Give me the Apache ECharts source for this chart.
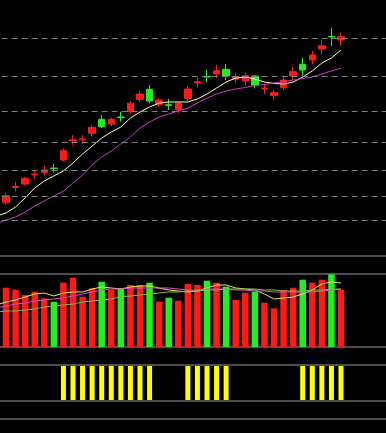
<!DOCTYPE html>
<html><head><meta charset="utf-8">
<script src="https://cdn.jsdelivr.net/npm/echarts@6/dist/echarts.min.js"></script>
<style>html,body{margin:0;padding:0;background:#000;}#c{width:386px;height:433px;}</style>
</head><body><div id="c"></div>
<script>
// categories (slot 0 is a partly hidden previous day, slots 37-41 are empty)
const categories = ['0','1','2','3','4','5','6','7','8','9','10','11','12','13','14','15','16','17','18','19','20',
  '21','22','23','24','25','26','27','28','29','30','31','32','33','34','35','36','37','38','39','40','41'];

// [open, close, low, high]
const candles = ['-',
  [15.37,16.03,15.10,16.33],[16.85,16.95,16.43,17.43],[17.20,17.77,17.03,17.93],[18.12,18.20,17.70,18.60],
  [18.37,18.60,18.03,19.00],[18.80,18.74,18.37,19.20],[19.60,20.53,19.43,20.77],[21.55,21.62,21.10,22.10],
  [21.62,21.70,21.20,22.10],[22.27,22.87,21.93,23.10],[23.67,22.93,22.77,24.10],[23.20,23.67,23.00,23.83],
  [23.90,23.84,23.43,24.43],[24.43,25.27,24.20,25.53],[25.67,26.20,25.43,26.50],[26.67,25.50,25.27,27.10],
  [25.17,25.60,24.93,25.83],[25.13,25.07,24.60,25.70],[24.60,25.27,24.27,25.43],[25.77,26.70,25.50,27.00],
  [27.30,27.43,26.83,27.83],[27.96,27.90,27.37,28.60],[28.20,28.53,27.77,29.10],[28.67,28.00,27.60,29.20],
  [27.67,27.93,27.27,28.33],[27.50,28.03,27.03,28.37],[28.00,27.10,26.77,28.10],[26.72,26.80,26.20,27.27],
  [26.03,26.33,25.60,26.60],[26.83,27.60,26.60,27.93],[28.00,28.43,27.60,28.93],[29.17,28.60,28.00,29.83],
  [29.60,30.10,29.17,30.50],[30.70,31.03,30.10,31.60],[31.96,31.90,31.00,32.83],[31.60,31.93,31.05,32.33]
];

const ma1 = [14.00,14.30,14.90,15.80,16.80,17.50,18.00,18.50,19.30,20.20,21.00,21.80,22.40,22.90,23.80,24.40,24.90,
  25.30,25.40,25.40,25.40,25.70,26.20,26.80,27.40,27.80,27.90,27.70,27.40,27.25,27.20,27.40,27.90,28.50,29.30,29.80,30.60];
const ma2 = [13.20,13.60,13.90,14.40,15.00,15.50,16.00,16.50,17.30,18.10,19.10,19.90,20.50,21.20,21.90,22.80,23.40,
  23.90,24.20,24.50,24.80,25.30,25.80,26.20,26.50,26.70,26.85,27.05,27.15,27.30,27.45,27.60,27.75,27.90,28.20,28.50,28.80];

const volumes = ['-',59.3,57.3,52.0,55.3,48.7,45.3,64.3,69.3,50.3,58.7,65.3,57.0,58.7,62.0,62.0,64.3,45.3,49.3,46.3,63.0,
  62.0,66.3,64.3,60.3,47.0,54.3,55.3,44.3,38.7,57.0,59.3,67.3,64.3,67.3,72.7,57.3];
const vma1 = [42,45,47,50,53,54,51,54,55,55,58,60,59,58,60,61,61,59,57,56,55,56,59,62,62,59,58,57,53,48,49,50,53,57,63,65,64];
const vma2 = [39,41,43,44,46,47,48,49,51,53,55,57,58,58,59,59,59,59,59,58,57,57,58,58,58,57,57,56,56,55,55,55,55,55,56,57,58];
const vma3 = [35,36,36,37,38,40,41,42,43,45,46,47,48,50,51,52,53,54,55,55,56,56,57,57,58,58,58,58,57,57,56,56,56,57,57,58,58];

const signal = [0, 0,0,0,0,0,0,1,1,1,1,1,1,1,1,1,1,0,0,0,1,1,1,1,1,0,0,0,0,0,0,0,1,1,1,1,1];

const gridLevels = [31.8, 28.0, 24.5, 21.4, 18.6, 16.0, 13.6];

const RED = '#ff1a1a', GREEN = '#22ee22';
const slot = 335 / 35;
const L = 6 - 1.5 * slot;
const W = categories.length * slot;

const volData = volumes.map((v, i) => {
  if (v === '-') return '-';
  const c = candles[i];
  return { value: v, itemStyle: { color: c[1] >= c[0] ? RED : GREEN } };
});

const chart = echarts.init(document.getElementById('c'), null, { renderer: 'canvas' });
const border = { show: true, borderColor: '#9a9a9a', borderWidth: 1, backgroundColor: 'transparent',
  outerBoundsMode: 'none', containLabel: false };
const xa = (g) => ({ type: 'category', gridIndex: g, data: categories, boundaryGap: true, show: false });
const ya = (g, min, max) => ({ type: 'value', gridIndex: g, min, max, show: false, splitLine: { show: false } });
const lineS = (x, y, data, color) => ({ type: 'line', xAxisIndex: x, yAxisIndex: y, data, showSymbol: false, symbol: 'none',
  smooth: false, lineStyle: { color, width: 1 }, itemStyle: { color }, silent: true, z: 3 });

chart.setOption({
  backgroundColor: '#000',
  animation: false,
  grid: [
    Object.assign({ left: L, width: W, top: -10, height: 266 }, border),
    Object.assign({ left: L, width: W, top: 274, height: 73 }, border),
    Object.assign({ left: L, width: W, top: 365, height: 36 }, border),
    Object.assign({ left: L, width: W, top: 419, height: 40 }, border)
  ],
  xAxis: [xa(0), xa(1), xa(2), xa(3)],
  yAxis: [ya(0, 10, 36.6), ya(1, 0, 73), ya(2, -0.03, 1.03), ya(3, 0, 1)],
  series: [
    {
      type: 'candlestick', xAxisIndex: 0, yAxisIndex: 0, data: candles, barWidth: 7,
      itemStyle: { color: RED, color0: GREEN, borderColor: RED, borderColor0: GREEN, borderWidth: 1 },
      markLine: {
        silent: true, symbol: ['none', 'none'], label: { show: false },
        lineStyle: { color: '#808080', type: [6, 4], width: 1 },
        emphasis: { disabled: true },
        data: gridLevels.map(v => ({ yAxis: v }))
      }
    },
    lineS(0, 0, ma1, '#ffffb0'),
    lineS(0, 0, ma2, '#c83cc8'),
    { type: 'bar', xAxisIndex: 1, yAxisIndex: 1, data: volData, barWidth: 6.5, silent: true },
    lineS(1, 1, vma1, '#e8e860'),
    lineS(1, 1, vma2, '#d050d0'),
    lineS(1, 1, vma3, '#80c040'),
    { type: 'bar', xAxisIndex: 2, yAxisIndex: 2, data: signal, barWidth: 5, itemStyle: { color: '#ffff00' }, silent: true }
  ]
});
</script></body></html>
